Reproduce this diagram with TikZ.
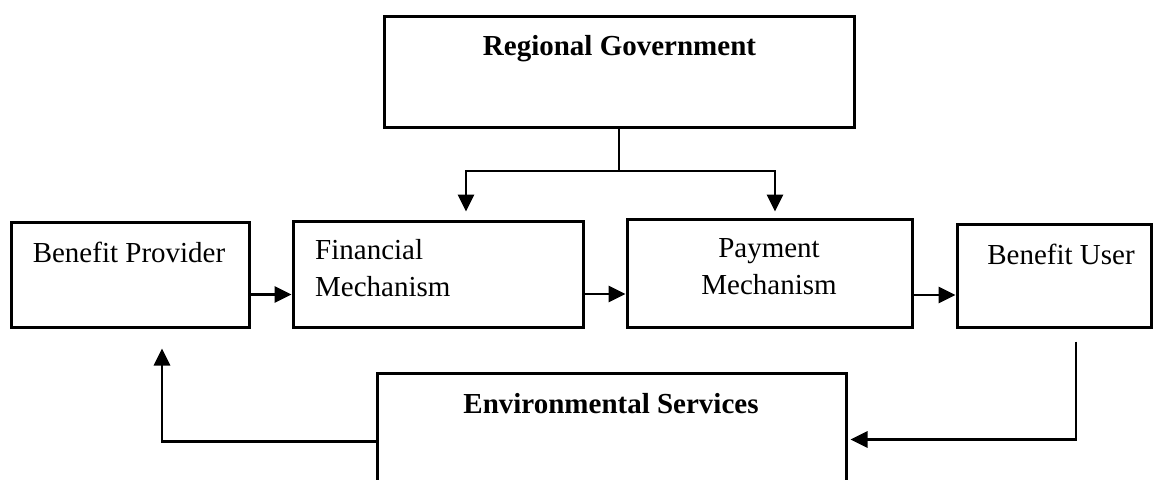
\documentclass[tikz,border=0pt]{standalone}
\usepackage{fontspec}
\setmainfont{Liberation Serif}
\usetikzlibrary{arrows.meta}

\tikzset{
  box/.style={draw, line width=3pt, inner sep=0pt},
  lbl/.style={font=\fontsize{29}{37}\selectfont, inner sep=0pt},
  link/.style={line width=2.8pt},
  arr/.style={line width=2.8pt, -{Triangle[length=17pt,width=16pt]}},
}

\begin{document}
\begin{tikzpicture}[x=1pt, y=-1pt]
      \useasboundingbox (0,0) rectangle (1158,479);
      \clip (0,0) rectangle (1158,479);

      % Boxes
      \node[box, minimum width=470pt, minimum height=111pt] (gov) at (619,71.5) {};
      \node[box, minimum width=238pt, minimum height=105pt] (bp) at (130,274.5) {};
      \node[box, minimum width=290pt, minimum height=106pt] (fin) at (438,274) {};
      \node[box, minimum width=285pt, minimum height=108pt] (pay) at (769.5,273) {};
      \node[box, minimum width=194pt, minimum height=103pt] (bu) at (1054,275.5) {};
      \node[box, minimum width=469pt, minimum height=187pt] (es) at (611.5,466.5) {};

      % Labels
      \node[lbl, anchor=base] (govtxt) at (619.5,55) {\textbf{Regional Government}};
      \node[lbl, anchor=base] (bptxt) at (129,262) {Benefit Provider};
      \node[lbl, anchor=north west, align=left] (fintxt) at (315,239) {Financial\\Mechanism};
      \node[lbl, anchor=north, align=center] (paytxt) at (769,238) {Payment\\Mechanism};
      \node[lbl, anchor=base] (butxt) at (1061,264) {Benefit User};
      \node[lbl, anchor=base] (estxt) at (611,413) {\textbf{Environmental Services}};

      % Government to both mechanisms
      \coordinate (split) at (619,171);
      \draw[link] (gov.south) -- (split);
      \draw[arr] (split) -| ([xshift=28pt,yshift=8pt]fin.north);
      \draw[arr] (split) -| ([xshift=5.5pt,yshift=6pt]pay.north);

      % Main flow
      \draw[arr] ([yshift=-20pt]bp.east) -- ([yshift=-20pt]bp.east -| fin.west);
      \draw[arr] ([yshift=-20pt]fin.east) -- ([yshift=-20pt]fin.east -| pay.west);
      \draw[arr] ([yshift=-22pt]pay.east) -- ([yshift=-22pt]pay.east -| bu.west);

      % Back through environmental services
      \coordinate (ufoot) at ([xshift=22pt,yshift=-13pt]bu.south);
      \draw[arr] (ufoot) |- ([xshift=3pt,yshift=-68pt]es.north east);
      \draw[arr] ([yshift=-70pt]es.north west) -| ([xshift=32pt,yshift=-20pt]bp.south);
    \end{tikzpicture}
\end{document}
